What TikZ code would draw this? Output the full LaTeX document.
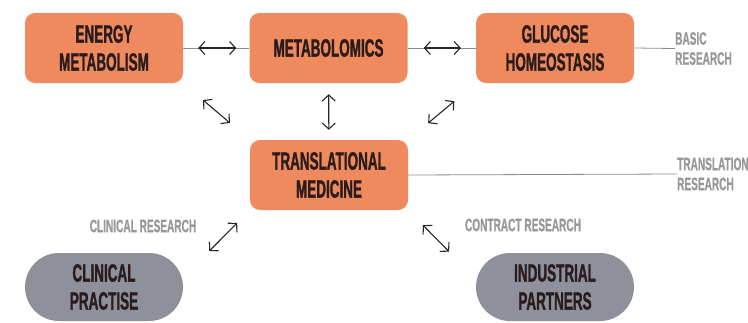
\documentclass[tikz,border=0pt]{standalone}
\usepackage{fontspec}
\usetikzlibrary{arrows.meta}
\newfontfamily\boxfont[FakeStretch=0.54,FakeBold=1.2]{Liberation Sans Bold}
\newfontfamily\labfont[FakeStretch=0.56,FakeBold=0.8]{Liberation Sans Bold}
\definecolor{boxorange}{HTML}{EF8A5E}
\definecolor{boxgray}{HTML}{8E909B}
\definecolor{labgray}{HTML}{989898}
\definecolor{boxtext}{HTML}{2A1C1C}
\tikzset{
  topic/.style={fill=boxorange, rounded corners=10pt, minimum width=158pt, minimum height=70pt,
    align=center, text=boxtext, font=\boxfont\fontsize{25}{28}\selectfont},
  partner/.style={topic, fill=boxgray, rounded corners=34pt, minimum height=68pt},
  tag/.style={anchor=west, align=left, text=labgray, inner sep=0pt, font=\labfont\fontsize{18}{20}\selectfont},
  arr/.style={{Straight Barb[length=6pt,width=13pt]}-{Straight Barb[length=6pt,width=13pt]},
    line width=1.1pt, draw=black!85},
  link/.style={draw=gray!90, line width=0.8pt}
}
\begin{document}
\begin{tikzpicture}[x=1pt,y=-1pt]
\useasboundingbox (0,0) rectangle (748,322);

% research topics
\node[topic] (em) at (104,48) {ENERGY\\METABOLISM};
\node[topic] (mb) at (328.5,48) {METABOLOMICS};
\node[topic] (gh) at (555,48) {GLUCOSE\\HOMEOSTASIS};
\node[topic] (tm) at (329,175) {TRANSLATIONAL\\MEDICINE};

% partners
\node[partner] (cp) at (104,287) {CLINICAL\\PRACTISE};
\node[partner] (ip) at (555,287) {INDUSTRIAL\\PARTNERS};

% side labels
\node[tag] (basic) at (675,48.5) {BASIC\\RESEARCH};
\node[tag] (transl) at (677,174) {TRANSLATION\\RESEARCH};
\node[tag, anchor=center] (clinres) at (143,226) {CLINICAL RESEARCH};
\node[tag, anchor=center] (contres) at (523,225) {CONTRACT RESEARCH};

\draw[link] (gh.east) -- (basic.west);
\draw[link] (tm.east) -- (transl.west);

% top row
\draw[link] (em) -- (mb);
\draw[link] (mb) -- (gh);
\draw[arr, shorten <=15pt, shorten >=13pt] (em) -- (mb);
\draw[arr, shorten <=16pt, shorten >=15pt] (mb) -- (gh);
\draw[arr, shorten <=11pt, shorten >=10pt] (mb) -- (tm);

% diagonal arrows
\foreach \s/\e/\a/\b in {em.south east/tm.north west/26pt/26pt,
                         gh.south west/tm.north east/28pt/26pt,
                         tm.south west/cp.7/18pt/37pt,
                         tm.south east/ip.174/21pt/38pt} {
  \draw[arr, shorten <=\a, shorten >=\b] (\s) -- (\e);
}
\end{tikzpicture}
\end{document}
